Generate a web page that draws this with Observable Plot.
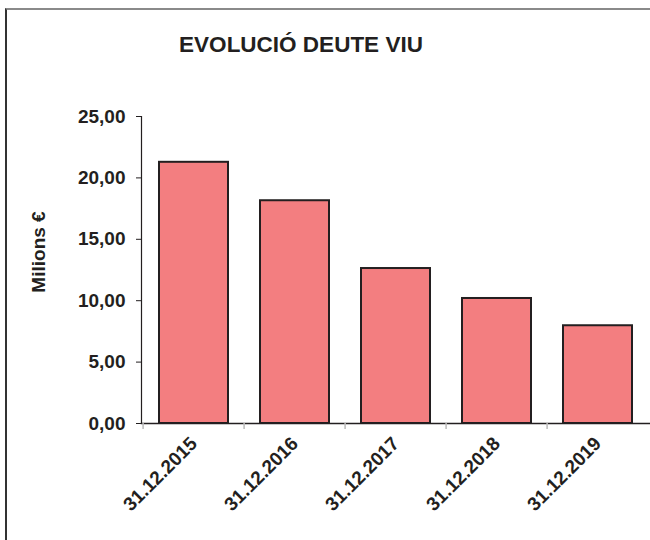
<!DOCTYPE html>
<html>
<head>
<meta charset="utf-8">
<script src="https://cdn.jsdelivr.net/npm/d3@7"></script>
<script src="https://cdn.jsdelivr.net/npm/@observablehq/plot@0.6"></script>
<style>
  html, body { margin: 0; padding: 0; background: #fff; overflow: hidden; }
  #wrap { position: relative; width: 650px; height: 540px; overflow: hidden; font-family: "Liberation Sans", Arial, sans-serif; }
  #frame { position: absolute; left: 5px; top: 8px; width: 800px; height: 800px; border-left: 2px solid #333; border-top: 2px solid #8a8a8a; }
  #title { position: absolute; left: 0; top: 32px; width: 602px; text-align: center; font-weight: bold; font-size: 22.5px; line-height: 26px; color: #231f20; }
  #chart { position: absolute; left: 0; top: 0; }
</style>
</head>
<body>
<div id="wrap">
  <div id="frame"></div>
  <div id="chart"></div>
  <div id="title">EVOLUCIÓ DEUTE VIU</div>
</div>
<script>
const categories = ["31.12.2015", "31.12.2016", "31.12.2017", "31.12.2018", "31.12.2019"];
const values = [21.27, 18.14, 12.62, 10.18, 7.96];
const yTicks = [0, 5, 10, 15, 20, 25];
const yLabel = "Milions €";

const data = categories.map((c, i) => ({cat: c, value: values[i]}));
const ink = "#231f20";

const plot = Plot.plot({
  width: 650,
  height: 540,
  marginLeft: 141,
  marginRight: 0,
  marginTop: 116,
  marginBottom: 117,
  style: {fontFamily: "'Liberation Sans', Arial, sans-serif", color: ink, background: "transparent"},
  x: {domain: categories, paddingInner: 0.32, paddingOuter: 0.16},
  y: {domain: [0, 25]},
  marks: [
    Plot.barY(data, {x: "cat", y: "value", fill: "#f37e80", stroke: ink, strokeWidth: 2}),
    Plot.frame({anchor: "left", stroke: ink, strokeWidth: 1.2}),
    Plot.frame({anchor: "bottom", stroke: ink, strokeWidth: 1.5}),
    Plot.ruleX(categories, {x: d => d, dx: -50.9, y1: 0, y2: 0, insetBottom: -6, stroke: "#bbb", strokeWidth: 1.5}),
    Plot.axisY({
      ticks: yTicks,
      tickSize: 5,
      tickPadding: 11,
      tickFormat: d => d.toFixed(2).replace(".", ","),
      fontSize: 19,
      fontWeight: "bold",
      label: null,
      stroke: ink
    }),
    Plot.axisX({
      tickSize: 0,
      tickPadding: 17,
      tickRotate: -45,
      fontSize: 19,
      fontWeight: "bold",
      label: null
    }),
    Plot.text([yLabel], {
      text: d => d,
      frameAnchor: "left",
      textAnchor: "middle",
      dx: -103,
      dy: -18,
      rotate: -90,
      fontSize: 19,
      fontWeight: "bold",
      fill: ink
    })
  ]
});
document.getElementById("chart").appendChild(plot);
</script>
</body>
</html>
